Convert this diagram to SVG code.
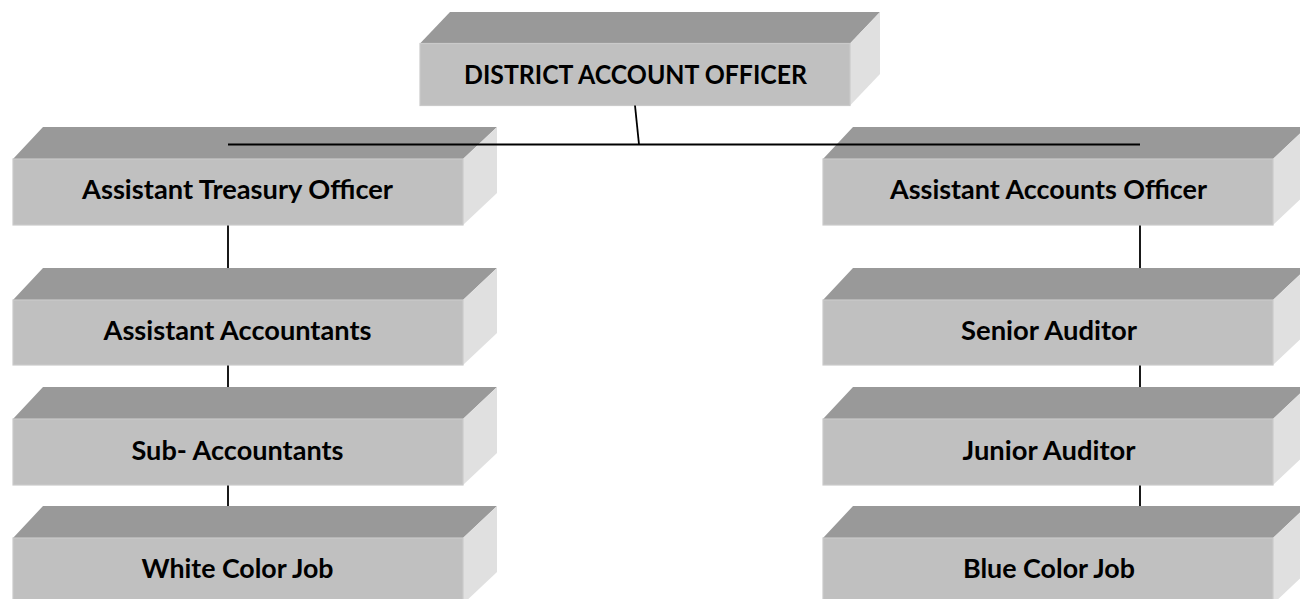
<svg xmlns="http://www.w3.org/2000/svg" width="1300" height="599" viewBox="0 0 1300 599">
<style>
.top{fill:#999999}
.front{fill:#c0c0c0;stroke:#cacaca;stroke-width:1.2}
.side{fill:#e0e0e0}
.lbl{font-family:Lato,"Liberation Sans",sans-serif;font-weight:bold;font-size:26px;fill:#000;text-anchor:middle}
.con{stroke:#000;stroke-width:1.8;fill:none}
</style>
<rect width="1300" height="599" fill="#fff"/>
<g id="node-dao">
<polygon class="top" points="420,43.5 450,12 880,12 850,43.5"/>
<polygon class="side" points="850,43.5 880,12 880,74 850,105.5"/>
<rect class="front" x="420" y="43.5" width="430" height="62"/>
<text class="lbl" x="635.5" y="84" textLength="343" lengthAdjust="spacingAndGlyphs">DISTRICT ACCOUNT OFFICER</text>
</g>
<g id="node-ato">
<polygon class="top" points="13,159 43,127 497,127 463,159"/>
<polygon class="side" points="463,159 497,127 497,193 463,225"/>
<rect class="front" x="13" y="159" width="450" height="66"/>
<text class="lbl" x="237.5" y="199" textLength="311" lengthAdjust="spacingAndGlyphs">Assistant Treasury Officer</text>
</g>
<g id="node-aa">
<polygon class="top" points="13,300 43,268 497,268 463,300"/>
<polygon class="side" points="463,300 497,268 497,333 463,365"/>
<rect class="front" x="13" y="300" width="450" height="65"/>
<text class="lbl" x="237.5" y="340" textLength="268" lengthAdjust="spacingAndGlyphs">Assistant Accountants</text>
</g>
<g id="node-sa">
<polygon class="top" points="13,419 43,387 497,387 463,419"/>
<polygon class="side" points="463,419 497,387 497,453 463,485"/>
<rect class="front" x="13" y="419" width="450" height="66"/>
<text class="lbl" x="237.5" y="460" textLength="212" lengthAdjust="spacingAndGlyphs">Sub- Accountants</text>
</g>
<g id="node-wcj">
<polygon class="top" points="13,538 43,506 497,506 463,538"/>
<polygon class="side" points="463,538 497,506 497,572 463,604"/>
<rect class="front" x="13" y="538" width="450" height="66"/>
<text class="lbl" x="237.5" y="578" textLength="192" lengthAdjust="spacingAndGlyphs">White Color Job</text>
</g>
<g id="node-aao">
<polygon class="top" points="823,159 853,127 1307,127 1273,159"/>
<polygon class="side" points="1273,159 1307,127 1307,193 1273,225"/>
<rect class="front" x="823" y="159" width="450" height="66"/>
<text class="lbl" x="1048.5" y="199" textLength="317" lengthAdjust="spacingAndGlyphs">Assistant Accounts Officer</text>
</g>
<g id="node-senior">
<polygon class="top" points="823,300 853,268 1307,268 1273,300"/>
<polygon class="side" points="1273,300 1307,268 1307,333 1273,365"/>
<rect class="front" x="823" y="300" width="450" height="65"/>
<text class="lbl" x="1049" y="340" textLength="176" lengthAdjust="spacingAndGlyphs">Senior Auditor</text>
</g>
<g id="node-junior">
<polygon class="top" points="823,419 853,387 1307,387 1273,419"/>
<polygon class="side" points="1273,419 1307,387 1307,453 1273,485"/>
<rect class="front" x="823" y="419" width="450" height="66"/>
<text class="lbl" x="1049" y="460" textLength="173" lengthAdjust="spacingAndGlyphs">Junior Auditor</text>
</g>
<g id="node-bcj">
<polygon class="top" points="823,538 853,506 1307,506 1273,538"/>
<polygon class="side" points="1273,538 1307,506 1307,572 1273,604"/>
<rect class="front" x="823" y="538" width="450" height="66"/>
<text class="lbl" x="1049" y="578" textLength="172" lengthAdjust="spacingAndGlyphs">Blue Color Job</text>
</g>
<g id="connectors">
<line class="con" x1="635" y1="105.5" x2="639" y2="144.5"/>
<line class="con" x1="228" y1="144.5" x2="1140" y2="144.5"/>
<line class="con" x1="228" y1="225.5" x2="228" y2="268"/>
<line class="con" x1="228" y1="365.5" x2="228" y2="387"/>
<line class="con" x1="228" y1="485.5" x2="228" y2="506"/>
<line class="con" x1="1140" y1="225.5" x2="1140" y2="268"/>
<line class="con" x1="1140" y1="365.5" x2="1140" y2="387"/>
<line class="con" x1="1140" y1="485.5" x2="1140" y2="506"/>
</g>
</svg>
